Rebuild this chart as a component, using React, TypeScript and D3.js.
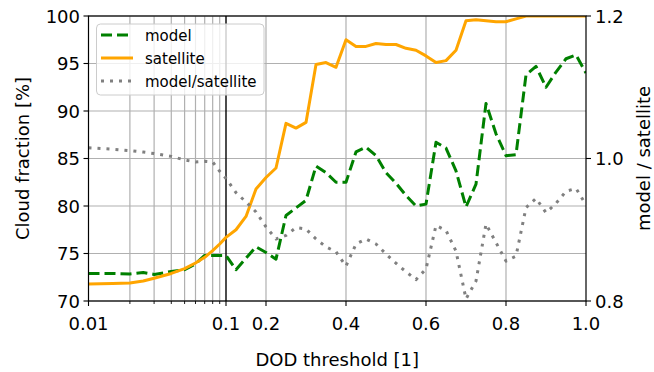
import React, { useRef, useEffect } from 'react';
import * as d3 from 'd3';

// DOD thresholds: log spaced below 0.1, steps of 0.025 above
const DOD_THRESHOLD = [
    0.01, 0.015, 0.02, 0.025, 0.03, 0.04, 0.05, 0.06, 0.07, 0.08, 0.09, 0.1,
    0.125, 0.15, 0.175, 0.2, 0.225, 0.25, 0.275, 0.3, 0.325, 0.35, 0.375, 0.4,
    0.425, 0.45, 0.475, 0.5, 0.525, 0.55, 0.575, 0.6, 0.625, 0.65, 0.675, 0.7,
    0.725, 0.75, 0.775, 0.8, 0.825, 0.85, 0.875, 0.9, 0.925, 0.95, 0.975, 1.0
];

const MODEL = [
    72.9, 72.9, 72.85, 73.0, 72.8, 73.1, 73.3, 73.9, 74.8, 74.8, 74.8, 74.8,
    73.3, 74.5, 75.7, 75.1, 74.4, 79.0, 79.8, 80.6, 84.2, 83.5, 82.5, 82.5,
    85.7, 86.2, 85.3, 83.5, 82.4, 81.1, 80.0, 80.2, 86.7, 86.1, 83.7, 79.9,
    82.3, 90.8, 87.6, 85.3, 85.4, 93.8, 94.7, 92.5, 94.1, 95.5, 95.9, 94.0
];

const SATELLITE = [
    71.8, 71.85, 71.9, 72.1, 72.4, 72.9, 73.4, 74.0, 74.6, 75.3, 76.0, 76.7,
    77.5, 78.9, 81.8, 83.0, 84.0, 88.7, 88.2, 88.8, 94.9, 95.1, 94.6, 97.5,
    96.8, 96.8, 97.1, 97.0, 97.0, 96.6, 96.4, 95.8, 95.1, 95.3, 96.4, 99.5,
    99.6, 99.5, 99.4, 99.4, 99.7, 100, 100, 100, 100, 100, 100, 100
];

const RATIO = [
    1.015, 1.013, 1.011, 1.009, 1.007, 1.003, 0.998, 0.995, 0.996, 0.995, 0.982, 0.972,
    0.952, 0.939, 0.925, 0.904, 0.887, 0.892, 0.903, 0.901, 0.887, 0.876, 0.869, 0.849,
    0.880, 0.887, 0.880, 0.866, 0.853, 0.841, 0.830, 0.845, 0.906, 0.899, 0.870, 0.803,
    0.828, 0.908, 0.882, 0.856, 0.863, 0.931, 0.944, 0.924, 0.937, 0.954, 0.958, 0.935
];

const X_MAJOR_TICKS = [0.01, 0.1, 0.2, 0.4, 0.6, 0.8, 1.0];
const X_MAJOR_LABELS = ["0.01", "0.1", "0.2", "0.4", "0.6", "0.8", "1.0"];
const X_MINOR_TICKS = [0.02, 0.03, 0.04, 0.05, 0.06, 0.07, 0.08, 0.09];
const X_LINEAR_GRID = [0.2, 0.4, 0.6, 0.8];
const Y_TICKS = [70, 75, 80, 85, 90, 95, 100];
const Y2_TICKS = [0.8, 1.0, 1.2];
const Y2_LABELS = ["0.8", "1.0", "1.2"];

const SERIES = [
    { name: "model", values: MODEL, color: "#008000", dash: "11,5", axis: "left" },
    { name: "satellite", values: SATELLITE, color: "#FFA500", dash: null, axis: "left" },
    { name: "model/satellite", values: RATIO, color: "#808080", dash: "3,6", axis: "right" }
];

function CloudFractionChart() {
    const svgRef = useRef(null);
    const width = 654;
    const height = 372;
    const plot = { left: 88.5, right: 586, top: 16, bottom: 301 };
    const font = "DejaVu Sans";

    useEffect(() => {
        const svg = d3.select(svgRef.current);
        svg.selectAll("*").remove();

        // log below 0.1, linear above
        const xLog = d3.scaleLog().domain([0.01, 0.1]).range([plot.left, 226]);
        const xLin = d3.scaleLinear().domain([0.1, 1.0]).range([226, plot.right]);
        const xScale = (v) => (v <= 0.1 ? xLog(v) : xLin(v));

        const yScale = d3.scaleLinear().domain([70, 100]).range([plot.bottom, plot.top]);
        const y2Scale = d3.scaleLinear().domain([0.8, 1.2]).range([plot.bottom, plot.top]);

        svg.append("defs").append("clipPath")
            .attr("id", "plot-clip")
            .append("rect")
            .attr("x", plot.left)
            .attr("y", plot.top)
            .attr("width", plot.right - plot.left)
            .attr("height", plot.bottom - plot.top);

        // grid
        const grid = svg.append("g").attr("stroke", "#b0b0b0").attr("stroke-width", 1.2);
        Y_TICKS.forEach(t => {
            grid.append("line")
                .attr("x1", plot.left).attr("x2", plot.right)
                .attr("y1", yScale(t)).attr("y2", yScale(t));
        });
        X_MINOR_TICKS.concat(X_LINEAR_GRID).forEach(t => {
            grid.append("line")
                .attr("x1", xScale(t)).attr("x2", xScale(t))
                .attr("y1", plot.top).attr("y2", plot.bottom);
        });

        // black marker line at 0.1
        svg.append("line")
            .attr("x1", xScale(0.1)).attr("x2", xScale(0.1))
            .attr("y1", plot.top).attr("y2", plot.bottom)
            .attr("stroke", "black")
            .attr("stroke-width", 1.4);

        // lines
        const lines = svg.append("g").attr("clip-path", "url(#plot-clip)");
        SERIES.forEach(s => {
            const y = s.axis === "left" ? yScale : y2Scale;
            const line = d3.line()
                .x((d, i) => xScale(DOD_THRESHOLD[i]))
                .y(d => y(d));
            lines.append("path")
                .datum(s.values)
                .attr("fill", "none")
                .attr("stroke", s.color)
                .attr("stroke-width", 3)
                .attr("stroke-dasharray", s.dash)
                .attr("stroke-linejoin", "round")
                .attr("d", line);
        });

        // spines
        svg.append("rect")
            .attr("x", plot.left).attr("y", plot.top)
            .attr("width", plot.right - plot.left)
            .attr("height", plot.bottom - plot.top)
            .attr("fill", "none")
            .attr("stroke", "black")
            .attr("stroke-width", 1.2);

        // left axis
        const leftAxis = svg.append("g");
        Y_TICKS.forEach(t => {
            leftAxis.append("line")
                .attr("x1", plot.left - 5).attr("x2", plot.left)
                .attr("y1", yScale(t)).attr("y2", yScale(t))
                .attr("stroke", "black").attr("stroke-width", 1.1);
            leftAxis.append("text")
                .attr("x", plot.left - 8.5)
                .attr("y", yScale(t) + 6.5)
                .attr("text-anchor", "end")
                .attr("font-family", font)
                .attr("font-size", 18)
                .text(t);
        });

        // right axis
        const rightAxis = svg.append("g");
        Y2_TICKS.forEach((t, i) => {
            rightAxis.append("line")
                .attr("x1", plot.right).attr("x2", plot.right + 5)
                .attr("y1", y2Scale(t)).attr("y2", y2Scale(t))
                .attr("stroke", "black").attr("stroke-width", 1.1);
            rightAxis.append("text")
                .attr("x", plot.right + 9)
                .attr("y", y2Scale(t) + 6.5)
                .attr("text-anchor", "start")
                .attr("font-family", font)
                .attr("font-size", 18)
                .text(Y2_LABELS[i]);
        });

        // bottom axis
        const bottomAxis = svg.append("g");
        X_MAJOR_TICKS.forEach((t, i) => {
            bottomAxis.append("line")
                .attr("x1", xScale(t)).attr("x2", xScale(t))
                .attr("y1", plot.bottom).attr("y2", plot.bottom + 5)
                .attr("stroke", "black").attr("stroke-width", 1.1);
            bottomAxis.append("text")
                .attr("x", xScale(t))
                .attr("y", 329.5)
                .attr("text-anchor", "middle")
                .attr("font-family", font)
                .attr("font-size", 18)
                .text(X_MAJOR_LABELS[i]);
        });
        X_MINOR_TICKS.forEach(t => {
            bottomAxis.append("line")
                .attr("x1", xScale(t)).attr("x2", xScale(t))
                .attr("y1", plot.bottom).attr("y2", plot.bottom + 3)
                .attr("stroke", "black").attr("stroke-width", 0.9);
        });

        // axis labels
        svg.append("text")
            .attr("x", (plot.left + plot.right) / 2)
            .attr("y", 365.5)
            .attr("text-anchor", "middle")
            .attr("font-family", font)
            .attr("font-size", 18)
            .text("DOD threshold [1]");

        svg.append("text")
            .attr("transform", `translate(28.5, ${(plot.top + plot.bottom) / 2}) rotate(-90)`)
            .attr("text-anchor", "middle")
            .attr("font-family", font)
            .attr("font-size", 18)
            .text("Cloud fraction [%]");

        svg.append("text")
            .attr("transform", `translate(649.5, ${(plot.top + plot.bottom) / 2}) rotate(-90)`)
            .attr("text-anchor", "middle")
            .attr("font-family", font)
            .attr("font-size", 18)
            .text("model / satellite");

        // legend
        const legend = svg.append("g");
        legend.append("rect")
            .attr("x", 96.5).attr("y", 24)
            .attr("width", 167.5).attr("height", 71)
            .attr("rx", 4)
            .attr("fill", "white").attr("fill-opacity", 0.8)
            .attr("stroke", "#cccccc").attr("stroke-width", 1);
        SERIES.forEach((s, i) => {
            const ly = 35 + i * 23;
            legend.append("line")
                .attr("x1", 101).attr("x2", 133)
                .attr("y1", ly).attr("y2", ly)
                .attr("stroke", s.color)
                .attr("stroke-width", 3)
                .attr("stroke-dasharray", s.dash);
            legend.append("text")
                .attr("x", 145)
                .attr("y", ly + 5.5)
                .attr("font-family", font)
                .attr("font-size", 15)
                .text(s.name);
        });
    }, []);

    return (
        <svg
            ref={svgRef}
            width={width}
            height={height}
            style={{ position: "absolute", left: 0, top: 0, background: "white" }}
        />
    );
}

export default function App() {
    return <CloudFractionChart />;
}
